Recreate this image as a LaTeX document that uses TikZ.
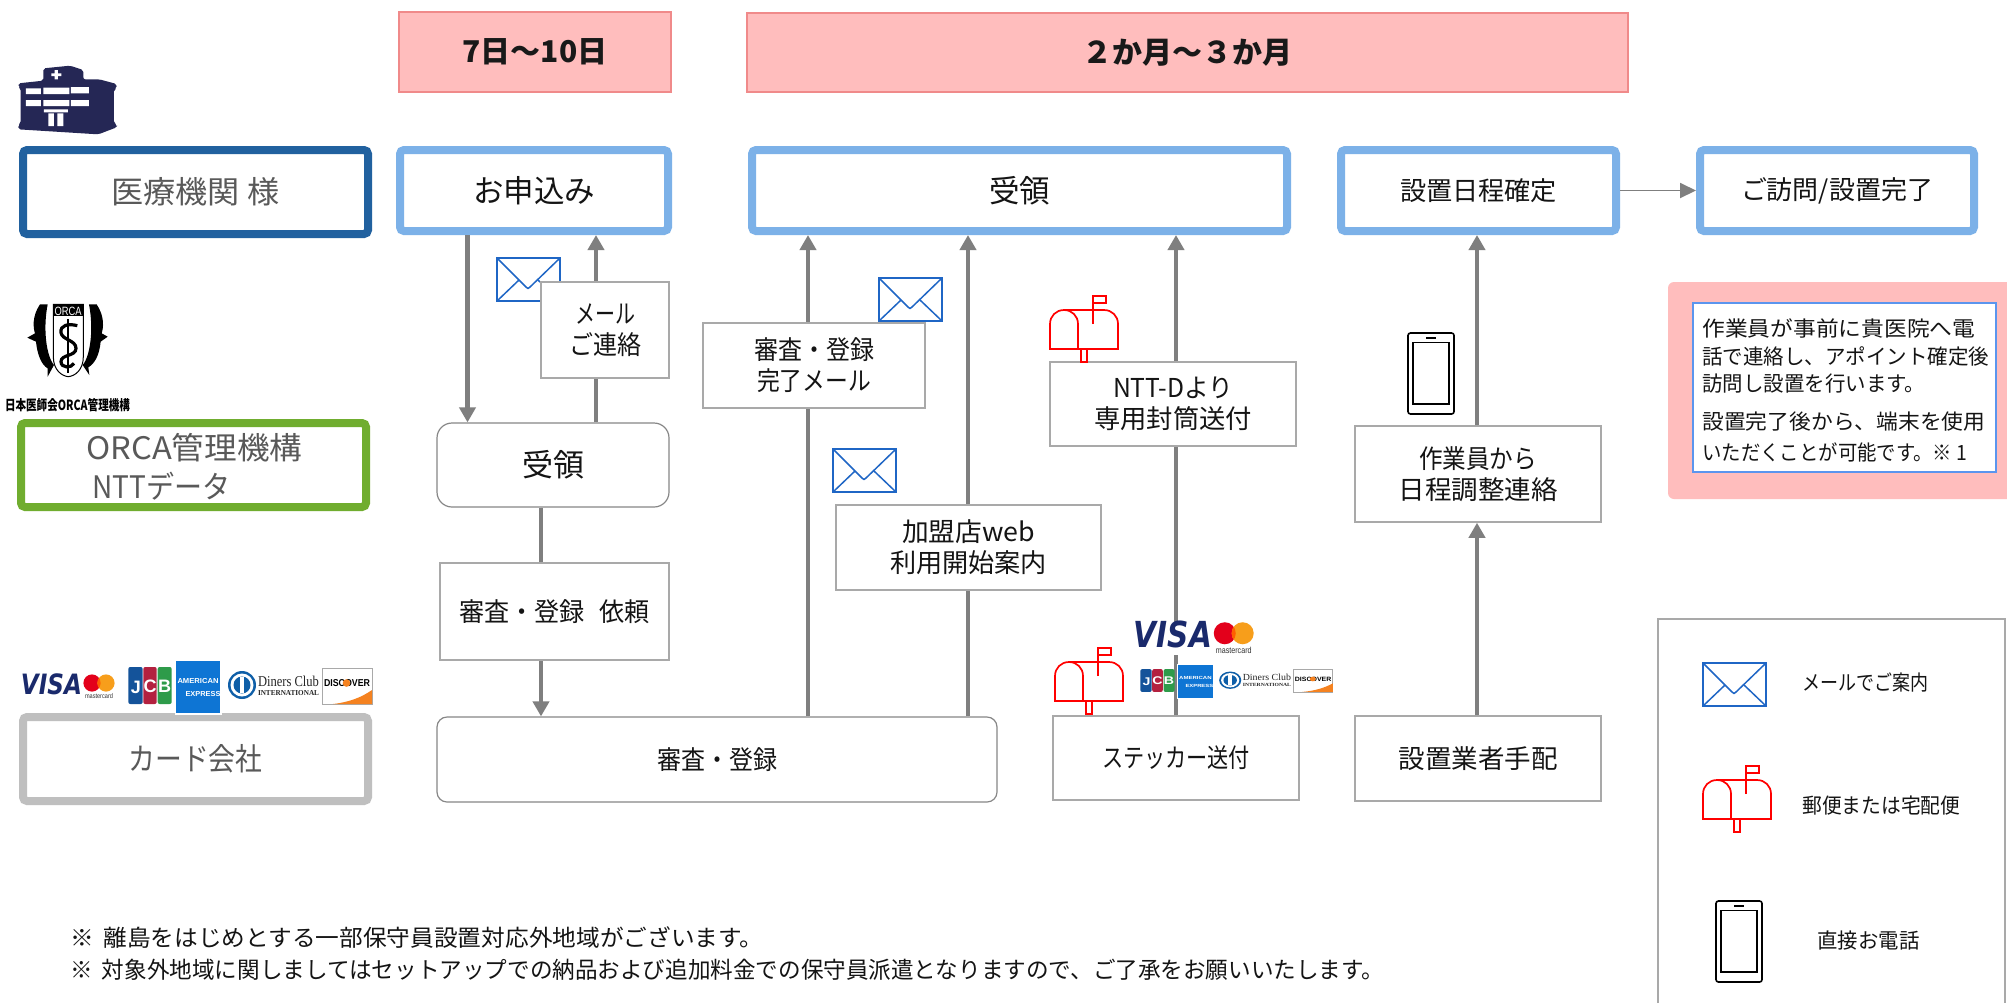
\documentclass[tikz,border=0pt]{standalone}
\usepackage{fontspec}
\usepackage{graphicx}
\usetikzlibrary{arrows.meta}
\setmainfont{Noto Sans CJK JP}
\newfontfamily\lsans{Liberation Sans}
\newfontfamily\lserif{Liberation Serif}
\newfontfamily\dsans{DejaVu Sans}
\definecolor{hdrfill}{HTML}{FFBDBD}
\definecolor{hdredge}{HTML}{F08A8A}
\definecolor{stepblue}{HTML}{7CB1E8}
\definecolor{hospblue}{HTML}{21619F}
\definecolor{orcagreen}{HTML}{70AD2F}
\definecolor{cardgray}{HTML}{BFBFBF}
\definecolor{flowgray}{HTML}{7F7F7F}
\definecolor{thingray}{HTML}{A9A9A9}
\definecolor{mailblue}{HTML}{1F66C5}
\definecolor{navy}{HTML}{252755}
\definecolor{visablue}{HTML}{1A2A6C}
\definecolor{amexblue}{HTML}{0E75D4}
\definecolor{jcbblue}{HTML}{14539A}
\definecolor{jcbred}{HTML}{B3213F}
\definecolor{jcbgreen}{HTML}{2E9B4A}
\definecolor{dinersblue}{HTML}{0F5FA8}
\definecolor{mcred}{HTML}{E3001B}
\definecolor{mcorange}{HTML}{F79E1B}
\definecolor{mcmid}{HTML}{FF5F00}
\definecolor{discorange}{HTML}{F58220}
\definecolor{noteedge}{HTML}{5B95EE}
\newcommand{\fitw}[2]{\resizebox{\dimexpr #1pt/2\relax}{\height}{#2}}
\newcommand{\mybox}[7]{\node[#1,minimum width={(#5-#3)*0.5pt},minimum height={(#6-#4)*0.5pt}] (#2) at ({(#3+#5)/2},{(#4+#6)/2}) {#7};}
\tikzset{
  txt/.style={inner sep=0pt,text=black!92,font=\fontsize{13}{15.5}\selectfont,align=center},
  big/.style={txt,font=\fontsize{15.5}{19}\selectfont},
  side/.style={big,text=black!65},
  small/.style={txt,font=\fontsize{10.5}{14}\selectfont},
  hdr/.style={draw=hdredge,fill=hdrfill,line width=.7pt,inner sep=0pt,font=\bfseries\fontsize{15}{18}\selectfont,text=black!90},
  thick box/.style={draw,line width=4pt,fill=white,rounded corners=2pt,inner sep=0pt},
  stepbox/.style={thick box,draw=stepblue},
  thin box/.style={draw=thingray,line width=.75pt,fill=white,inner sep=0pt},
  round box/.style={draw=thingray!80!black,line width=.6pt,fill=white,inner sep=0pt},
  flow/.style={draw=flowgray,line width=2.25pt,-{Triangle[width=8pt,length=7.5pt]},fill=flowgray},
  thinflow/.style={draw=flowgray,line width=.9pt,-{Triangle[width=7.5pt,length=8pt]}},
  envpic/.pic={
    \draw[mailblue,line width=.85pt] (0,0) rectangle (63,43);
    \draw[mailblue,line width=.75pt,line join=round] (0,0) -- (29,29) -- (31,30.5) -- (33,29) -- (63,0);
    \draw[mailblue,line width=.75pt] (0,43) -- (22,22) (63,43) -- (41,22);
  },
  boxpic/.pic={
    \draw[red,line width=.85pt] (0,53) -- (0,28) .. controls (0,20) and (6,14) .. (14,14) -- (54,14) .. controls (62,14) and (68,20) .. (68,28) -- (68,53) -- cycle;
    \draw[red,line width=.85pt] (14,14) .. controls (22,14) and (28,20) .. (28,28) -- (28,53);
    \draw[red,line width=.85pt] (43,28) -- (43,0) -- (56,0) -- (56,7) -- (43,7);
    \draw[red,line width=.85pt] (31,53) rectangle (37,66);
  },
  phonepic/.pic={
    \draw[black,line width=.8pt,rounded corners=1.2pt] (0,0) rectangle (46,81);
    \draw[black,line width=.8pt] (5,9.5) rectangle (41,71);
    \draw[black,line width=.8pt] (18,4.8) -- (28,4.8);
  },
}
\newcommand{\visagroup}[1]{%
  \node[transform shape,inner sep=0pt,text=visablue] (#1visa) at (51.5,684) {\dsans\bfseries\itshape\fontsize{14}{15}\selectfont\fitw{61}{VISA}};
  \fill[mcred] (92,683) circle (8.6);
  \fill[mcorange] (106,683) circle (8.6);
  \begin{scope}
    \clip (92,683) circle (8.6);
    \fill[mcmid] (106,683) circle (8.6);
  \end{scope}
  \node[transform shape,inner sep=0pt,text=black!80] (#1mc) at (99,696) {\lsans\fontsize{3.4}{4}\selectfont\fitw{28}{mastercard}};
}
\newcommand{\cardgroup}[1]{%
  \fill[jcbblue,rounded corners=1pt] (128.3,667) rectangle (142.7,704);
  \fill[jcbred,rounded corners=1pt] (143.3,667) rectangle (156.7,704);
  \fill[jcbgreen,rounded corners=1pt] (157.7,667) rectangle (171.7,704);
  \node[transform shape,inner sep=0pt,text=white] (#1j) at (136,687) {\lsans\bfseries\fontsize{9}{9}\selectfont J};
  \node[transform shape,inner sep=0pt,text=white] (#1c) at (150,686) {\lsans\bfseries\fontsize{9}{9}\selectfont C};
  \node[transform shape,inner sep=0pt,text=white] (#1b) at (164.7,686) {\lsans\bfseries\fontsize{9}{9}\selectfont B};
  \fill[white] (174.5,659.5) rectangle (221.5,714.5);
  \fill[amexblue] (176,661) rectangle (220,713);
  \node[transform shape,inner sep=0pt,text=white] (#1am) at (198,681) {\lsans\bfseries\fontsize{3.6}{4}\selectfont\fitw{41}{AMERICAN}};
  \node[transform shape,inner sep=0pt,text=white] (#1ex) at (203,694) {\lsans\bfseries\fontsize{3.6}{4}\selectfont\fitw{35}{EXPRESS}};
  \fill[dinersblue] (242,685) circle (14);
  \fill[white] (242,685) circle (11.5);
  \fill[dinersblue] (242,685) circle (8.5);
  \fill[white] (239.8,677) rectangle (244.2,693);
  \node[transform shape,inner sep=0pt,text=black!85] (#1dc) at (288.5,681) {\lserif\fontsize{7.5}{8}\selectfont\fitw{61}{Diners Club}};
  \node[transform shape,inner sep=0pt,text=black!85] (#1in) at (288.5,693) {\lserif\bfseries\fontsize{3.8}{4}\selectfont\fitw{61}{INTERNATIONAL}};
  \draw[thingray,fill=white,line width=.4pt] (322,668) rectangle (372,704);
  \fill[discorange] (333,704) .. controls (350,702) and (362,697) .. (372,690) -- (372,704) -- cycle;
  \node[transform shape,inner sep=0pt,text=black] (#1ds) at (347,683) {\lsans\bfseries\fontsize{5}{6}\selectfont\fitw{46}{DISCOVER}};
  \fill[discorange] (346.5,683) circle (3.8);
}
\begin{document}
\begin{tikzpicture}[x=0.5pt,y=-0.5pt]
\useasboundingbox (0,0) rectangle (2007,1003);
\fill[white] (0,0) rectangle (2007,1003);

% headers
\mybox{hdr}{h1}{399}{12}{671}{92}{7日～10日}
\mybox{hdr}{h2}{747}{13}{1628}{92}{２か月～３か月}

% hospital icon
\begin{scope}[shift={(0,40)},scale=1/3]
  \fill[navy,rounded corners=1pt] (130,85) -- (210,77) -- (250,90) -- (250,118) -- (298,118) -- (350,132) -- (350,145) -- (342,148) -- (342,250) -- (352,255) -- (350,262) -- (295,283) -- (55,268) -- (55,255) -- (62,250) -- (62,145) -- (55,140) -- (55,130) -- (130,122) -- cycle;
  \fill[white] (78,145) rectangle (123,162) (130,143) rectangle (208,162) (213,141) rectangle (267,160)
               (78,180) rectangle (123,198) (130,180) rectangle (208,198) (213,180) rectangle (267,198)
               (132,208) rectangle (204,217) (145,220) rectangle (162,258) (172,220) rectangle (190,258)
               (154,100) rectangle (184,108) (164,90) rectangle (174,118);
  % ORCA emblem
  \fill[black] (120,793) .. controls (95,830) and (100,865) .. (105,880) -- (82,893) -- (108,905) .. controls (112,945) and (125,975) .. (143,985) -- (143,1010) -- (162,975) .. controls (140,950) and (128,870) .. (143,793) -- cycle;
  \fill[black] (290,793) .. controls (315,830) and (310,865) .. (305,880) -- (323,890) -- (302,905) .. controls (298,945) and (285,970) .. (265,982) -- (268,1005) -- (248,975) .. controls (270,950) and (282,870) .. (267,793) -- cycle;
  \draw[black,line width=.5pt,fill=white] (160,793) -- (160,950) .. controls (160,990) and (185,1008) .. (205,1010) .. controls (225,1008) and (250,990) .. (250,950) -- (250,793) -- cycle;
  \fill[black] (160,793) rectangle (250,828);
  \draw[black,line width=1pt] (205,838) -- (205,998);
  \draw[black,line width=1.6pt] (232,857) .. controls (205,850) and (180,855) .. (183,878) .. controls (186,900) and (228,900) .. (228,925) .. controls (228,950) and (183,942) .. (183,965) .. controls (183,985) and (215,985) .. (222,970);
\end{scope}
\node[inner sep=0pt,text=white] (orcaband) at (68,311) {\lsans\fontsize{6}{7}\selectfont\fitw{27}{ORCA}};
\node[inner sep=0pt,text=black] (orcaname) at (67.5,405) {\bfseries\fontsize{7}{8}\selectfont\fitw{125}{日本医師会ORCA管理機構}};

% row heads
\mybox{thick box,draw=hospblue,side}{rowA}{23}{150}{368}{234}{\fitw{168}{医療機関 様}}
\mybox{thick box,draw=orcagreen}{rowB}{21}{423}{366}{507}{}
\node[side,anchor=west] (rowBa) at (86,448) {\fitw{216}{ORCA管理機構}};
\node[side,anchor=west] (rowBb) at (92,486) {\fitw{138}{NTTデータ}};
\mybox{thick box,draw=cardgray,side}{rowC}{23}{717}{368}{801}{\fitw{134}{カード会社}}

% step boxes
\mybox{stepbox,big}{apply}{400}{150}{668}{231}{\fitw{122}{お申込み}}
\mybox{stepbox,big}{accept}{752}{150}{1287}{231}{\fitw{61}{受領}}
\mybox{stepbox,txt}{fix}{1341}{150}{1616}{231}{\fitw{157}{設置日程確定}}
\mybox{stepbox,txt}{visit}{1700}{150}{1974}{231}{\fitw{192}{ご訪問/設置完了}}
\draw[thinflow] (fix.east) -- (visit.west);

% lower nodes
\mybox{round box,big,rounded corners=7.5pt}{rcv}{437}{423}{669}{507}{\fitw{62}{受領}}
\mybox{round box,txt,rounded corners=5pt}{review}{437}{717}{997}{802}{\fitw{120}{審査・登録}}
\mybox{thin box,txt}{sticker}{1053}{716}{1299}{800}{\fitw{148}{ステッカー送付}}
\mybox{thin box,txt}{vendor}{1355}{716}{1601}{801}{\fitw{159}{設置業者手配}}

% connector columns
\coordinate (c1) at (467.5,0);
\coordinate (c2) at (596,0);
\coordinate (c3) at (541,0);
\coordinate (c4) at (808,0);
\coordinate (c5) at (968,0);
\coordinate (c6) at (1176,0);
\coordinate (c7) at (1477,0);

\draw[flow] (apply.south -| c1) -- (rcv.north -| c1);
\draw[flow] (rcv.north -| c2) -- (apply.south -| c2);
\draw[flow] (rcv.south -| c3) -- (review.north -| c3);
\draw[flow] (review.north -| c4) -- (accept.south -| c4);
\draw[flow] (review.north -| c5) -- (accept.south -| c5);
\draw[flow] (sticker.north -| c6) -- (accept.south -| c6);

% labelled steps on the connectors
\pic at (497,258) {envpic};
\mybox{thin box,txt}{mailnote}{541}{282}{669}{378}{\fitw{60}{メール}\\\fitw{72}{ご連絡}}
\mybox{thin box,txt}{reqrev}{440}{563}{669}{660}{\fitw{191}{審査・登録\hspace{.6em}依頼}}
\mybox{thin box,txt}{donemail}{703}{323}{925}{408}{\fitw{120}{審査・登録}\\\fitw{114}{完了メール}}
\mybox{thin box,txt}{webinfo}{836}{505}{1101}{590}{\fitw{133}{加盟店web}\\\fitw{157}{利用開始案内}}
\mybox{thin box,txt}{envelope}{1050}{362}{1296}{446}{\fitw{120}{NTT-Dより}\\\fitw{158}{専用封筒送付}}
\mybox{thin box,txt}{callwork}{1355}{426}{1601}{522}{\fitw{118}{作業員から}\\\fitw{159}{日程調整連絡}}
\draw[flow] (vendor.north -| c7) -- (callwork.south -| c7);
\draw[flow] (callwork.north -| c7) -- (fix.south -| c7);

% icons
\pic at (879,278) {envpic};
\pic at (833,449) {envpic};
\pic at (1050,296) {boxpic};
\pic at (1055,648) {boxpic};
\pic at (1408,333) {phonepic};

% card logos
\begin{scope}
  \visagroup{l}
  \cardgroup{l}
\end{scope}
\fill[white] (1134,622) rectangle (1256,655);
\begin{scope}[shift={(1107,-241)},xscale=1.28,yscale=1.28]
  \visagroup{s}
\end{scope}
\begin{scope}[shift={(1039,255.5)},xscale=.79,yscale=.62]
  \cardgroup{s}
\end{scope}

% note panel
\fill[hdrfill] (2007,282) [rounded corners=3pt] -- (1668,282) -- (1668,499) [sharp corners] -- (2007,499) -- cycle;
\draw[draw=noteedge,line width=1pt,fill=white] (1693,303) rectangle (1996,472);
\node[small,anchor=west] (n1) at (1702,328) {\fitw{273}{作業員が事前に貴医院へ電}};
\node[small,anchor=west] (n2) at (1702,356) {\fitw{287}{話で連絡し、アポイント確定後}};
\node[small,anchor=west] (n3) at (1702,384) {\fitw{223}{訪問し設置を行います。}};
\node[small,anchor=west] (n4) at (1702,422) {\fitw{283}{設置完了後から、端末を使用}};
\node[small,anchor=west] (n5) at (1702,452) {\fitw{265}{いただくことが可能です。※ 1}};

% legend
\draw[thingray,line width=.75pt] (1658,1003) -- (1658,619) -- (2005,619) -- (2005,1003);
\pic at (1703,663) {envpic};
\pic at (1703,766) {boxpic};
\pic at (1716,901) {phonepic};
\node[small,anchor=west] (lg1) at (1802,682) {\fitw{126}{メールでご案内}};
\node[small,anchor=west] (lg2) at (1802,806) {\fitw{158}{郵便または宅配便}};
\node[small,anchor=west] (lg3) at (1817,940) {\fitw{102}{直接お電話}};

% foot notes
\node[txt,anchor=west,font=\fontsize{11.5}{14}\selectfont] (f1) at (70,938) {\fitw{693}{※\hspace{.4em}離島をはじめとする一部保守員設置対応外地域がございます。}};
\node[txt,anchor=west,font=\fontsize{11.5}{14}\selectfont] (f2) at (70,970) {\fitw{1314}{※\hspace{.4em}対象外地域に関しましてはセットアップでの納品および追加料金での保守員派遣となりますので、ご了承をお願いいたします。}};
\end{tikzpicture}
\end{document}
